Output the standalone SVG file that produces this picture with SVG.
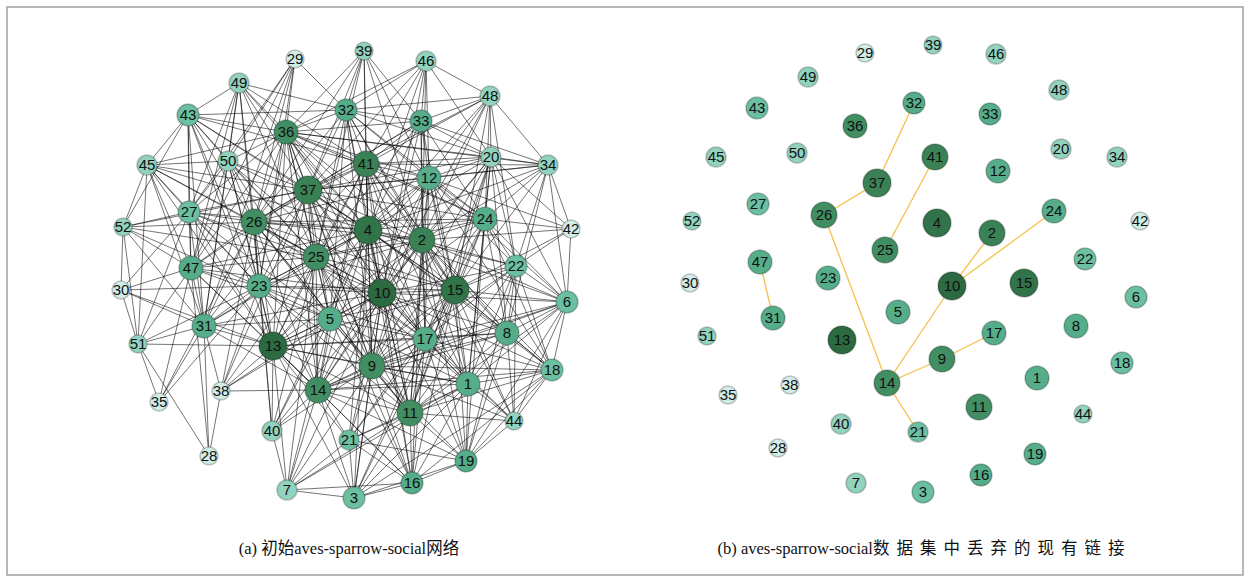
<svg xmlns="http://www.w3.org/2000/svg" width="1250" height="582" viewBox="0 0 1250 582">
<style>
.edges path{fill:none;stroke:#000;stroke-width:0.7;stroke-opacity:0.78}
.removed path{fill:none;stroke:#f6c04a;stroke-width:1.3}
.node circle{stroke:#000;stroke-opacity:0.22;stroke-width:1.6}
.node text{font-family:"Liberation Sans",Arial,sans-serif;font-size:15px;text-anchor:middle;fill:#111}
.k1 circle{fill:#2c6a41}.k2 circle{fill:#31744a}.k3 circle{fill:#3a8156}.k4 circle{fill:#418e63}
.k5 circle{fill:#55ad8a}.k6 circle{fill:#6cc0a2}.k7 circle{fill:#92d3bf}.k8 circle{fill:#d2ede8}
.cap{font-family:"Liberation Serif","Noto Sans CJK SC",serif;font-size:16.5px;fill:#111;text-anchor:middle}
</style>
<rect x="0" y="0" width="1250" height="582" fill="#fff"/>
<rect x="7" y="7" width="1236" height="568" fill="none" stroke="#a0a0a0" stroke-width="1.5"/>
<g id="edges-a" class="edges">
<path d="M228 161L295 59L189 212M191 268L295 59L204 326M286 132L295 59L254 222M346 110L295 59L259 286"/>
<path d="M346 110L364 51L286 132M308 190L364 51L366 164M368 230L364 51L429 178M421 121L364 51L254 222M422 240L364 51L316 257"/>
<path d="M346 110L426 61L286 132M421 121L426 61L429 178M366 164L426 61L368 230M422 240L426 61L490 96M491 157L426 61L382 293M308 190L426 61"/>
<path d="M188 115L239 83L346 110M286 132L239 83L228 161M189 212L239 83L254 222M191 268L239 83L308 190M204 326L239 83L316 257M259 286L239 83L368 230M366 164L239 83"/>
<path d="M421 121L490 96L346 110M548 165L490 96L491 157M429 178L490 96L485 219M366 164L490 96L368 230M422 240L490 96L455 290M516 266L490 96L382 293M308 190L490 96"/>
<path d="M147 165L188 115L286 132M228 161L188 115L189 212M254 222L188 115L191 268M204 326L188 115L308 190M316 257L188 115L259 286M368 230L188 115L366 164M346 110L188 115L273 346M123 227L188 115"/>
<path d="M286 132L346 110L308 190M366 164L346 110L368 230M429 178L346 110L421 121M254 222L346 110L422 240M316 257L346 110L382 293M485 219L346 110L491 157M455 290L346 110L330 319M372 366L346 110"/>
<path d="M429 178L421 121L366 164M368 230L421 121L422 240M382 293L421 121L308 190M254 222L421 121L485 219M491 157L421 121L455 290M425 339L421 121L316 257M286 132L421 121L548 165"/>
<path d="M147 165L286 132L228 161M308 190L286 132L366 164M368 230L286 132L429 178M254 222L286 132L316 257M422 240L286 132L382 293M455 290L286 132L485 219M491 157L286 132L548 165M189 212L286 132L191 268M259 286L286 132L273 346M330 319L286 132L372 366M318 390L286 132L425 339"/>
<path d="M228 161L147 165L189 212M123 227L147 165L191 268M204 326L147 165L254 222M308 190L147 165L316 257M259 286L147 165L273 346M368 230L147 165L138 344"/>
<path d="M308 190L228 161L254 222M189 212L228 161L191 268M204 326L228 161L316 257M368 230L228 161L382 293M273 346L228 161L259 286M330 319L228 161"/>
<path d="M548 165L491 157L429 178M485 219L491 157L516 266M455 290L491 157L422 240M382 293L491 157L368 230M425 339L491 157L507 333M567 302L491 157L571 229M366 164L491 157L308 190M372 366L491 157L410 413M468 384L491 157"/>
<path d="M485 219L548 165L516 266M571 229L548 165L567 302M455 290L548 165L422 240M429 178L548 165L366 164M368 230L548 165L507 333M308 190L548 165"/>
<path d="M123 227L189 212L254 222M191 268L189 212L204 326M259 286L189 212L316 257M308 190L189 212L273 346M121 290L189 212L138 344M368 230L189 212L382 293M330 319L189 212"/>
<path d="M191 268L123 227L121 290M138 344L123 227L204 326M254 222L123 227L259 286M308 190L123 227L316 257"/>
<path d="M485 219L571 229L516 266M567 302L571 229L429 178M455 290L571 229L422 240"/>
<path d="M485 219L516 266L567 302M507 333L516 266L552 370M455 290L516 266L422 240M382 293L516 266L368 230M425 339L516 266L468 384M514 421L516 266L466 461M372 366L516 266L410 413M429 178L516 266"/>
<path d="M121 290L191 268L204 326M254 222L191 268L259 286M316 257L191 268L308 190M273 346L191 268L368 230M382 293L191 268L330 319M138 344L191 268L159 402M318 390L191 268L209 456"/>
<path d="M138 344L121 290L204 326M273 346L121 290L259 286"/>
<path d="M485 219L567 302L507 333M552 370L567 302L455 290M382 293L567 302L422 240M368 230L567 302L425 339M468 384L567 302L514 421M372 366L567 302L410 413M466 461L567 302L318 390M429 178L567 302"/>
<path d="M552 370L507 333L455 290M382 293L507 333L422 240M368 230L507 333L485 219M425 339L507 333L468 384M514 421L507 333L466 461M372 366L507 333L410 413M318 390L507 333L273 346M366 164L507 333"/>
<path d="M138 344L204 326L254 222M259 286L204 326L316 257M308 190L204 326L273 346M221 391L204 326L159 402M209 456L204 326L318 390M330 319L204 326L382 293M368 230L204 326"/>
<path d="M159 402L138 344L209 456M259 286L138 344L273 346"/>
<path d="M485 219L552 370L455 290M382 293L552 370L422 240M368 230L552 370L425 339M468 384L552 370L514 421M466 461L552 370L410 413M372 366L552 370L318 390M412 483L552 370L354 498M429 178L552 370"/>
<path d="M273 346L221 391L318 390M209 456L221 391L259 286M316 257L221 391L254 222M330 319L221 391L382 293M308 190L221 391"/>
<path d="M259 286L159 402L254 222"/>
<path d="M468 384L514 421L466 461M455 290L514 421L425 339M382 293L514 421L422 240M410 413L514 421L372 366"/>
<path d="M273 346L272 431L318 390M287 490L272 431L372 366M382 293L272 431L316 257M330 319L272 431L254 222M368 230L272 431L259 286"/>
<path d="M318 390L349 440L372 366M410 413L349 440L273 346M412 483L349 440L354 498M287 490L349 440L382 293M368 230L349 440L455 290M468 384L349 440L466 461M425 339L349 440"/>
<path d="M468 384L466 461L412 483M354 498L466 461L410 413M372 366L466 461L425 339M455 290L466 461L382 293M318 390L466 461L422 240M485 219L466 461"/>
<path d="M354 498L412 483L287 490M410 413L412 483L372 366M318 390L412 483L273 346M382 293L412 483L425 339M468 384L412 483L455 290M422 240L412 483L368 230M316 257L412 483L330 319"/>
<path d="M354 498L287 490L273 346M318 390L287 490L372 366M410 413L287 490L382 293M330 319L287 490L316 257M468 384L287 490"/>
<path d="M410 413L354 498L372 366M318 390L354 498L273 346M382 293L354 498L425 339M468 384L354 498L368 230M455 290L354 498"/>
<path d="M422 240L468 384L368 230M372 366L468 384L382 293M410 413L468 384L429 178M273 346L468 384L318 390M455 290L468 384L425 339M485 219L468 384L316 257M366 164L468 384L330 319"/>
<path d="M368 230L422 240L330 319M372 366L422 240L382 293M410 413L422 240L429 178M273 346L422 240L318 390M455 290L422 240L425 339M259 286L422 240L485 219M316 257L422 240L254 222M308 190L422 240L366 164"/>
<path d="M330 319L368 230L372 366M382 293L368 230L410 413M429 178L368 230L273 346M318 390L368 230L455 290M425 339L368 230L259 286M485 219L368 230L316 257M254 222L368 230L308 190M366 164L368 230"/>
<path d="M372 366L330 319L382 293M410 413L330 319L273 346M318 390L330 319L455 290M425 339L330 319L259 286M316 257L330 319L254 222M308 190L330 319L366 164"/>
<path d="M382 293L372 366L410 413M429 178L372 366L273 346M318 390L372 366L455 290M425 339L372 366L259 286M485 219L372 366L316 257M254 222L372 366L308 190M366 164L372 366"/>
<path d="M410 413L382 293L429 178M273 346L382 293L318 390M455 290L382 293L425 339M259 286L382 293L485 219M316 257L382 293L254 222M308 190L382 293L366 164"/>
<path d="M429 178L410 413L273 346M318 390L410 413L455 290M425 339L410 413L259 286M485 219L410 413L316 257M254 222L410 413L308 190M366 164L410 413"/>
<path d="M273 346L429 178L318 390M455 290L429 178L425 339M485 219L429 178L316 257M254 222L429 178L308 190M366 164L429 178"/>
<path d="M318 390L273 346L455 290M425 339L273 346L259 286M316 257L273 346L254 222M308 190L273 346L366 164"/>
<path d="M455 290L318 390L425 339M259 286L318 390L316 257M254 222L318 390L308 190M366 164L318 390"/>
<path d="M425 339L455 290L259 286M485 219L455 290L316 257M254 222L455 290L308 190M366 164L455 290"/>
<path d="M259 286L425 339L485 219M316 257L425 339L254 222M308 190L425 339L366 164"/>
<path d="M316 257L259 286L254 222M308 190L259 286L366 164"/>
<path d="M316 257L485 219L254 222M308 190L485 219L366 164"/>
<path d="M254 222L316 257L308 190M366 164L316 257"/>
<path d="M308 190L254 222L366 164L308 190"/>
</g>
<g id="edges-b" class="removed">
<path d="M914 103L877 183L824 215L887 383"/>
<path d="M935 157L885 250"/>
<path d="M992 233L952 286L1054 211"/>
<path d="M952 286L887 383L942 359L994 333"/>
<path d="M887 383L918 432"/>
<path d="M760 262L773 318"/>
</g>
<g id="nodes-a">
<g id="a-n29" class="node k8"><circle cx="295" cy="59" r="9"/><text x="295" y="64">29</text></g>
<g id="a-n39" class="node k7"><circle cx="364" cy="51" r="9"/><text x="364" y="56">39</text></g>
<g id="a-n46" class="node k7"><circle cx="426" cy="61" r="10"/><text x="426" y="66">46</text></g>
<g id="a-n49" class="node k7"><circle cx="239" cy="83" r="10"/><text x="239" y="88">49</text></g>
<g id="a-n48" class="node k7"><circle cx="490" cy="96" r="10"/><text x="490" y="101">48</text></g>
<g id="a-n43" class="node k6"><circle cx="188" cy="115" r="11"/><text x="188" y="120">43</text></g>
<g id="a-n32" class="node k5"><circle cx="346" cy="110" r="11"/><text x="346" y="115">32</text></g>
<g id="a-n33" class="node k5"><circle cx="421" cy="121" r="11"/><text x="421" y="126">33</text></g>
<g id="a-n36" class="node k4"><circle cx="286" cy="132" r="12"/><text x="286" y="137">36</text></g>
<g id="a-n45" class="node k7"><circle cx="147" cy="165" r="10"/><text x="147" y="170">45</text></g>
<g id="a-n50" class="node k7"><circle cx="228" cy="161" r="10"/><text x="228" y="166">50</text></g>
<g id="a-n41" class="node k3"><circle cx="366" cy="164" r="13"/><text x="366" y="169">41</text></g>
<g id="a-n20" class="node k7"><circle cx="491" cy="157" r="10"/><text x="491" y="162">20</text></g>
<g id="a-n34" class="node k7"><circle cx="548" cy="165" r="10"/><text x="548" y="170">34</text></g>
<g id="a-n12" class="node k5"><circle cx="429" cy="178" r="12"/><text x="429" y="183">12</text></g>
<g id="a-n37" class="node k3"><circle cx="308" cy="190" r="14"/><text x="308" y="195">37</text></g>
<g id="a-n27" class="node k6"><circle cx="189" cy="212" r="11"/><text x="189" y="217">27</text></g>
<g id="a-n26" class="node k4"><circle cx="254" cy="222" r="13"/><text x="254" y="227">26</text></g>
<g id="a-n24" class="node k5"><circle cx="485" cy="219" r="12"/><text x="485" y="224">24</text></g>
<g id="a-n52" class="node k7"><circle cx="123" cy="227" r="9"/><text x="123" y="232">52</text></g>
<g id="a-n4" class="node k2"><circle cx="368" cy="230" r="14"/><text x="368" y="235">4</text></g>
<g id="a-n2" class="node k3"><circle cx="422" cy="240" r="13"/><text x="422" y="245">2</text></g>
<g id="a-n42" class="node k8"><circle cx="571" cy="229" r="9"/><text x="571" y="234">42</text></g>
<g id="a-n25" class="node k4"><circle cx="316" cy="257" r="13"/><text x="316" y="262">25</text></g>
<g id="a-n22" class="node k6"><circle cx="516" cy="266" r="11"/><text x="516" y="271">22</text></g>
<g id="a-n47" class="node k5"><circle cx="191" cy="268" r="12"/><text x="191" y="273">47</text></g>
<g id="a-n23" class="node k5"><circle cx="259" cy="286" r="12"/><text x="259" y="291">23</text></g>
<g id="a-n10" class="node k1"><circle cx="382" cy="293" r="14"/><text x="382" y="298">10</text></g>
<g id="a-n15" class="node k2"><circle cx="455" cy="290" r="14"/><text x="455" y="295">15</text></g>
<g id="a-n30" class="node k8"><circle cx="121" cy="290" r="9"/><text x="121" y="295">30</text></g>
<g id="a-n6" class="node k6"><circle cx="567" cy="302" r="11"/><text x="567" y="307">6</text></g>
<g id="a-n5" class="node k5"><circle cx="330" cy="319" r="12"/><text x="330" y="324">5</text></g>
<g id="a-n8" class="node k5"><circle cx="507" cy="333" r="12"/><text x="507" y="338">8</text></g>
<g id="a-n31" class="node k5"><circle cx="204" cy="326" r="12"/><text x="204" y="331">31</text></g>
<g id="a-n17" class="node k5"><circle cx="425" cy="339" r="12"/><text x="425" y="344">17</text></g>
<g id="a-n13" class="node k1"><circle cx="273" cy="346" r="14"/><text x="273" y="351">13</text></g>
<g id="a-n51" class="node k7"><circle cx="138" cy="344" r="9"/><text x="138" y="349">51</text></g>
<g id="a-n9" class="node k4"><circle cx="372" cy="366" r="13"/><text x="372" y="371">9</text></g>
<g id="a-n18" class="node k6"><circle cx="552" cy="370" r="11"/><text x="552" y="375">18</text></g>
<g id="a-n1" class="node k5"><circle cx="468" cy="384" r="12"/><text x="468" y="389">1</text></g>
<g id="a-n14" class="node k4"><circle cx="318" cy="390" r="13"/><text x="318" y="395">14</text></g>
<g id="a-n38" class="node k8"><circle cx="221" cy="391" r="9"/><text x="221" y="396">38</text></g>
<g id="a-n35" class="node k8"><circle cx="159" cy="402" r="9"/><text x="159" y="407">35</text></g>
<g id="a-n11" class="node k4"><circle cx="410" cy="413" r="13"/><text x="410" y="418">11</text></g>
<g id="a-n44" class="node k7"><circle cx="514" cy="421" r="9"/><text x="514" y="426">44</text></g>
<g id="a-n40" class="node k7"><circle cx="272" cy="431" r="10"/><text x="272" y="436">40</text></g>
<g id="a-n21" class="node k6"><circle cx="349" cy="440" r="10"/><text x="349" y="445">21</text></g>
<g id="a-n19" class="node k5"><circle cx="466" cy="461" r="11"/><text x="466" y="466">19</text></g>
<g id="a-n28" class="node k8"><circle cx="209" cy="456" r="9"/><text x="209" y="461">28</text></g>
<g id="a-n16" class="node k5"><circle cx="412" cy="483" r="11"/><text x="412" y="488">16</text></g>
<g id="a-n7" class="node k7"><circle cx="287" cy="490" r="10"/><text x="287" y="495">7</text></g>
<g id="a-n3" class="node k6"><circle cx="354" cy="498" r="11"/><text x="354" y="503">3</text></g>
</g>
<g id="nodes-b">
<g id="b-n29" class="node k8"><circle cx="865" cy="53" r="9"/><text x="865" y="58">29</text></g>
<g id="b-n39" class="node k7"><circle cx="933" cy="45" r="9"/><text x="933" y="50">39</text></g>
<g id="b-n46" class="node k7"><circle cx="996" cy="54" r="10"/><text x="996" y="59">46</text></g>
<g id="b-n49" class="node k7"><circle cx="808" cy="77" r="10"/><text x="808" y="82">49</text></g>
<g id="b-n48" class="node k7"><circle cx="1059" cy="90" r="10"/><text x="1059" y="95">48</text></g>
<g id="b-n43" class="node k6"><circle cx="757" cy="108" r="11"/><text x="757" y="113">43</text></g>
<g id="b-n32" class="node k5"><circle cx="914" cy="103" r="11"/><text x="914" y="108">32</text></g>
<g id="b-n33" class="node k5"><circle cx="990" cy="114" r="11"/><text x="990" y="119">33</text></g>
<g id="b-n36" class="node k4"><circle cx="855" cy="126" r="12"/><text x="855" y="131">36</text></g>
<g id="b-n45" class="node k7"><circle cx="716" cy="157" r="10"/><text x="716" y="162">45</text></g>
<g id="b-n50" class="node k7"><circle cx="797" cy="153" r="10"/><text x="797" y="158">50</text></g>
<g id="b-n41" class="node k3"><circle cx="935" cy="157" r="13"/><text x="935" y="162">41</text></g>
<g id="b-n20" class="node k7"><circle cx="1061" cy="149" r="10"/><text x="1061" y="154">20</text></g>
<g id="b-n34" class="node k7"><circle cx="1117" cy="157" r="10"/><text x="1117" y="162">34</text></g>
<g id="b-n12" class="node k5"><circle cx="998" cy="171" r="12"/><text x="998" y="176">12</text></g>
<g id="b-n37" class="node k3"><circle cx="877" cy="183" r="14"/><text x="877" y="188">37</text></g>
<g id="b-n27" class="node k6"><circle cx="758" cy="204" r="11"/><text x="758" y="209">27</text></g>
<g id="b-n26" class="node k4"><circle cx="824" cy="215" r="13"/><text x="824" y="220">26</text></g>
<g id="b-n24" class="node k5"><circle cx="1054" cy="211" r="12"/><text x="1054" y="216">24</text></g>
<g id="b-n52" class="node k7"><circle cx="692" cy="221" r="9"/><text x="692" y="226">52</text></g>
<g id="b-n4" class="node k2"><circle cx="937" cy="223" r="14"/><text x="937" y="228">4</text></g>
<g id="b-n2" class="node k3"><circle cx="992" cy="233" r="13"/><text x="992" y="238">2</text></g>
<g id="b-n42" class="node k8"><circle cx="1140" cy="221" r="9"/><text x="1140" y="226">42</text></g>
<g id="b-n25" class="node k4"><circle cx="885" cy="250" r="13"/><text x="885" y="255">25</text></g>
<g id="b-n22" class="node k6"><circle cx="1085" cy="259" r="11"/><text x="1085" y="264">22</text></g>
<g id="b-n47" class="node k5"><circle cx="760" cy="262" r="12"/><text x="760" y="267">47</text></g>
<g id="b-n23" class="node k5"><circle cx="828" cy="278" r="12"/><text x="828" y="283">23</text></g>
<g id="b-n10" class="node k1"><circle cx="952" cy="286" r="14"/><text x="952" y="291">10</text></g>
<g id="b-n15" class="node k2"><circle cx="1024" cy="283" r="14"/><text x="1024" y="288">15</text></g>
<g id="b-n30" class="node k8"><circle cx="690" cy="283" r="9"/><text x="690" y="288">30</text></g>
<g id="b-n6" class="node k6"><circle cx="1136" cy="297" r="11"/><text x="1136" y="302">6</text></g>
<g id="b-n5" class="node k5"><circle cx="898" cy="312" r="12"/><text x="898" y="317">5</text></g>
<g id="b-n8" class="node k5"><circle cx="1076" cy="326" r="12"/><text x="1076" y="331">8</text></g>
<g id="b-n31" class="node k5"><circle cx="773" cy="318" r="12"/><text x="773" y="323">31</text></g>
<g id="b-n17" class="node k5"><circle cx="994" cy="333" r="12"/><text x="994" y="338">17</text></g>
<g id="b-n13" class="node k1"><circle cx="842" cy="340" r="14"/><text x="842" y="345">13</text></g>
<g id="b-n51" class="node k7"><circle cx="707" cy="336" r="9"/><text x="707" y="341">51</text></g>
<g id="b-n9" class="node k4"><circle cx="942" cy="359" r="13"/><text x="942" y="364">9</text></g>
<g id="b-n18" class="node k6"><circle cx="1122" cy="363" r="11"/><text x="1122" y="368">18</text></g>
<g id="b-n1" class="node k5"><circle cx="1037" cy="378" r="12"/><text x="1037" y="383">1</text></g>
<g id="b-n14" class="node k4"><circle cx="887" cy="383" r="13"/><text x="887" y="388">14</text></g>
<g id="b-n38" class="node k8"><circle cx="790" cy="385" r="9"/><text x="790" y="390">38</text></g>
<g id="b-n35" class="node k8"><circle cx="728" cy="395" r="9"/><text x="728" y="400">35</text></g>
<g id="b-n11" class="node k4"><circle cx="979" cy="407" r="13"/><text x="979" y="412">11</text></g>
<g id="b-n44" class="node k7"><circle cx="1083" cy="414" r="9"/><text x="1083" y="419">44</text></g>
<g id="b-n40" class="node k7"><circle cx="841" cy="424" r="10"/><text x="841" y="429">40</text></g>
<g id="b-n21" class="node k6"><circle cx="918" cy="432" r="10"/><text x="918" y="437">21</text></g>
<g id="b-n19" class="node k5"><circle cx="1035" cy="454" r="11"/><text x="1035" y="459">19</text></g>
<g id="b-n28" class="node k8"><circle cx="778" cy="448" r="9"/><text x="778" y="453">28</text></g>
<g id="b-n16" class="node k5"><circle cx="981" cy="475" r="11"/><text x="981" y="480">16</text></g>
<g id="b-n7" class="node k7"><circle cx="856" cy="483" r="10"/><text x="856" y="488">7</text></g>
<g id="b-n3" class="node k6"><circle cx="923" cy="492" r="11"/><text x="923" y="497">3</text></g>
</g>
<text class="cap" x="349" y="554">(a) 初始aves-sparrow-social网络</text>
<text class="cap" x="921" y="554">(b) aves-sparrow-social<tspan letter-spacing="7">数据集中丢弃的现有链</tspan>接</text>
</svg>
